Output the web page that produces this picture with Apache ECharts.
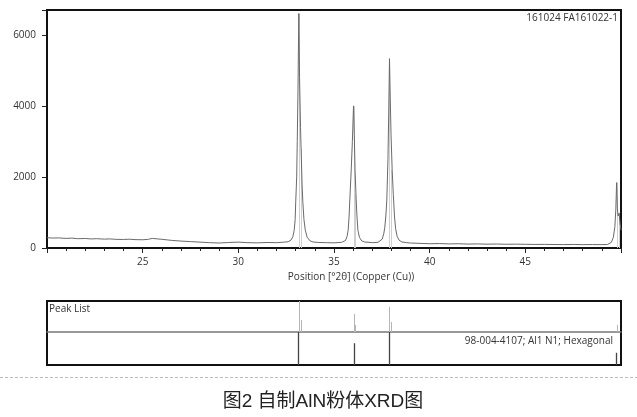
<!DOCTYPE html>
<html>
<head>
<meta charset="utf-8">
<script src="https://cdn.jsdelivr.net/npm/echarts@6/dist/echarts.min.js"></script>
<style>
html,body{margin:0;padding:0;background:#fff;}
#chart{width:637px;height:417px;}
</style>
</head>
<body>
<div id="chart"></div>
<script>
// Measured pattern: 2θ (degrees) and counts
const xrdAngle = [
  20.0,20.3,20.6,21.0,21.3,21.6,22.0,22.3,22.6,23.0,23.3,23.6,24.0,24.3,24.6,25.0,25.3,25.5,25.8,26.0,
  26.5,27.0,27.5,28.0,28.5,29.0,29.5,30.0,30.5,31.0,31.5,32.0,32.4,32.6,32.75,32.85,32.92,32.97,33.0,33.05,
  33.08,33.12,33.16,33.2,33.25,33.28,33.33,33.37,33.43,33.5,33.6,33.75,33.9,34.2,34.6,35.0,35.4,35.5,35.6,35.68,
  35.74,35.79,35.83,35.9,35.96,36.02,36.06,36.1,36.16,36.2,36.25,36.33,36.45,36.6,37.0,37.3,37.4,37.52,37.6,37.65,
  37.71,37.76,37.82,37.86,37.9,37.94,37.98,38.04,38.1,38.16,38.22,38.3,38.4,38.55,38.8,39.0,39.5,40.0,40.5,41.0,
  41.5,42.0,42.5,43.0,43.5,44.0,44.5,45.0,45.5,46.0,46.5,47.0,47.5,48.0,48.5,49.0,49.3,49.4,49.5,49.6,
  49.68,49.73,49.77,49.81,49.85,49.9,49.95,50.0
];
const xrdCounts = [
  290,280,285,270,278,262,268,255,262,250,256,244,240,248,236,232,245,270,255,245,
  215,195,180,165,150,140,155,165,150,145,155,150,165,175,220,320,500,800,1300,2000,
  3000,4500,6600,4800,3400,2800,1800,1300,800,500,300,200,170,155,150,145,160,170,210,320,
  500,900,1400,2200,3000,4000,3200,2200,1350,900,500,300,200,170,150,160,175,250,400,560,
  900,1350,2500,3800,5330,4200,3200,2200,1500,900,550,330,220,170,150,140,130,120,125,115,
  120,110,115,108,112,105,108,104,100,102,98,96,100,95,97,95,100,110,160,300,
  600,1100,1840,1100,900,980,700,500
];
// Light peak markers inside the main pattern (Kα1 / Kα2)
const markerPos = [33.16, 33.25, 36.02, 36.11, 37.9, 38.0, 49.77, 49.9];
const markerCounts = [6600, 2800, 4000, 1500, 5330, 2200, 1840, 980];

// Peak List panel (relative heights, %)
const peakListPos = [33.16, 33.25, 36.02, 36.11, 37.9, 38.0, 49.8];
const peakListRel = [100, 39, 58, 23, 81, 32, 23];

// Reference pattern 98-004-4107; Al1 N1; Hexagonal (relative heights, %)
const refPos = [33.1, 36.02, 37.9, 49.75];
const refRel = [100, 66, 100, 37];

const sampleLabel = '161024 FA161022-1';
const refLabel = '98-004-4107; Al1 N1; Hexagonal';
const xAxisName = 'Position [°2θ] (Copper (Cu))';
const figTitle = '图2 自制AlN粉体XRD图';

const FONT = '"Open Sans", "DejaVu Sans", sans-serif';

function stickRenderer(color, width) {
  return function (params, api) {
    const x = api.value(0), h = api.value(1);
    const p0 = api.coord([x, 0]);
    const p1 = api.coord([x, h]);
    return {
      type: 'line',
      shape: { x1: Math.round(p0[0]) + 0.5, y1: p0[1], x2: Math.round(p1[0]) + 0.5, y2: p1[1] },
      style: { stroke: color, lineWidth: width }
    };
  };
}

const chart = echarts.init(document.getElementById('chart'), null, { renderer: 'canvas' });

const option = {
  animation: false,
  backgroundColor: '#fff',
  title: [
    { text: sampleLabel, right: 14, top: 8, textStyle: { fontFamily: FONT, fontSize: 10, fontWeight: 'normal', color: '#333' } },
    { text: 'Peak List', left: 44, top: 299, textStyle: { fontFamily: FONT, fontSize: 10, fontWeight: 'normal', color: '#333' } },
    { text: refLabel, right: 19, top: 331, textStyle: { fontFamily: FONT, fontSize: 10, fontWeight: 'normal', color: '#333' } },
    { text: figTitle, left: 318, textAlign: 'center', top: 387, textStyle: { fontFamily: '"Liberation Sans", "Noto Sans CJK SC", sans-serif', fontSize: 19, fontWeight: 'normal', color: '#222' } }
  ],
  grid: [
    { left: 47, right: 16, top: 10, height: 238, show: true, borderColor: '#111', borderWidth: 2 },
    { left: 47, right: 16, top: 301, height: 31, show: false },
    { left: 47, right: 16, top: 332, height: 33, show: false },
    { left: 47, right: 16, top: 301, height: 64, show: true, borderColor: '#111', borderWidth: 2 }
  ],
  xAxis: [
    {
      gridIndex: 0, type: 'value', min: 20, max: 50, interval: 5,
      name: xAxisName, nameLocation: 'middle', nameGap: 23,
      nameTextStyle: { fontFamily: FONT, fontSize: 10, color: '#333', padding: [0, 0, 0, 34] },
      axisLine: { show: true, lineStyle: { color: '#111', width: 2 } },
      axisTick: { show: true, inside: false, length: 5, lineStyle: { color: '#222', width: 1 } },
      minorTick: { show: true, splitNumber: 5, length: 3, lineStyle: { color: '#222', width: 1 } },
      axisLabel: { fontFamily: FONT, fontSize: 10, color: '#333', margin: 9, showMinLabel: false, showMaxLabel: false },
      splitLine: { show: false }
    },
    { gridIndex: 1, type: 'value', min: 20, max: 50, show: true,
      axisLine: { show: true, onZero: false, lineStyle: { color: '#777', width: 1.5 } },
      axisTick: { show: false }, axisLabel: { show: false }, splitLine: { show: false } },
    { gridIndex: 2, type: 'value', min: 20, max: 50, show: false },
    { gridIndex: 3, type: 'value', min: 20, max: 50, show: false }
  ],
  yAxis: [
    {
      gridIndex: 0, type: 'value', min: 0, max: 6700, interval: 2000,
      axisLine: { show: true, lineStyle: { color: '#111', width: 2 } },
      axisTick: { show: true, length: 5, lineStyle: { color: '#222', width: 1 } },
      axisLabel: { fontFamily: FONT, fontSize: 10, color: '#333', margin: 11,
        formatter: function (v) { return v % 2000 === 0 ? String(v) : ''; } },
      splitLine: { show: false }
    },
    { gridIndex: 1, type: 'value', min: 0, max: 100, show: false },
    { gridIndex: 2, type: 'value', min: 0, max: 100, show: false },
    { gridIndex: 3, type: 'value', min: 0, max: 100, show: false }
  ],
  series: [
    {
      type: 'custom', xAxisIndex: 0, yAxisIndex: 0, silent: true,
      renderItem: stickRenderer('#cfcfcf', 1),
      data: markerPos.map((x, i) => [x, markerCounts[i]]),
      z: 1
    },
    {
      type: 'line', xAxisIndex: 0, yAxisIndex: 0, symbol: 'none', silent: true,
      lineStyle: { color: '#6a6a6a', width: 1 },
      data: xrdAngle.map((x, i) => [x, xrdCounts[i]]),
      z: 2
    },
    {
      type: 'custom', xAxisIndex: 1, yAxisIndex: 1, silent: true,
      renderItem: stickRenderer('#b5b5b5', 1),
      data: peakListPos.map((x, i) => [x, peakListRel[i]])
    },
    {
      type: 'custom', xAxisIndex: 2, yAxisIndex: 2, silent: true,
      renderItem: stickRenderer('#444', 1.3),
      data: refPos.map((x, i) => [x, refRel[i]])
    }
  ],
  graphic: [
    { type: 'line', shape: { x1: 0, y1: 377.5, x2: 637, y2: 377.5 },
      style: { stroke: '#bdbdbd', lineWidth: 1, lineDash: [3, 2] }, silent: true }
  ]
};
chart.setOption(option);
</script>
</body>
</html>
